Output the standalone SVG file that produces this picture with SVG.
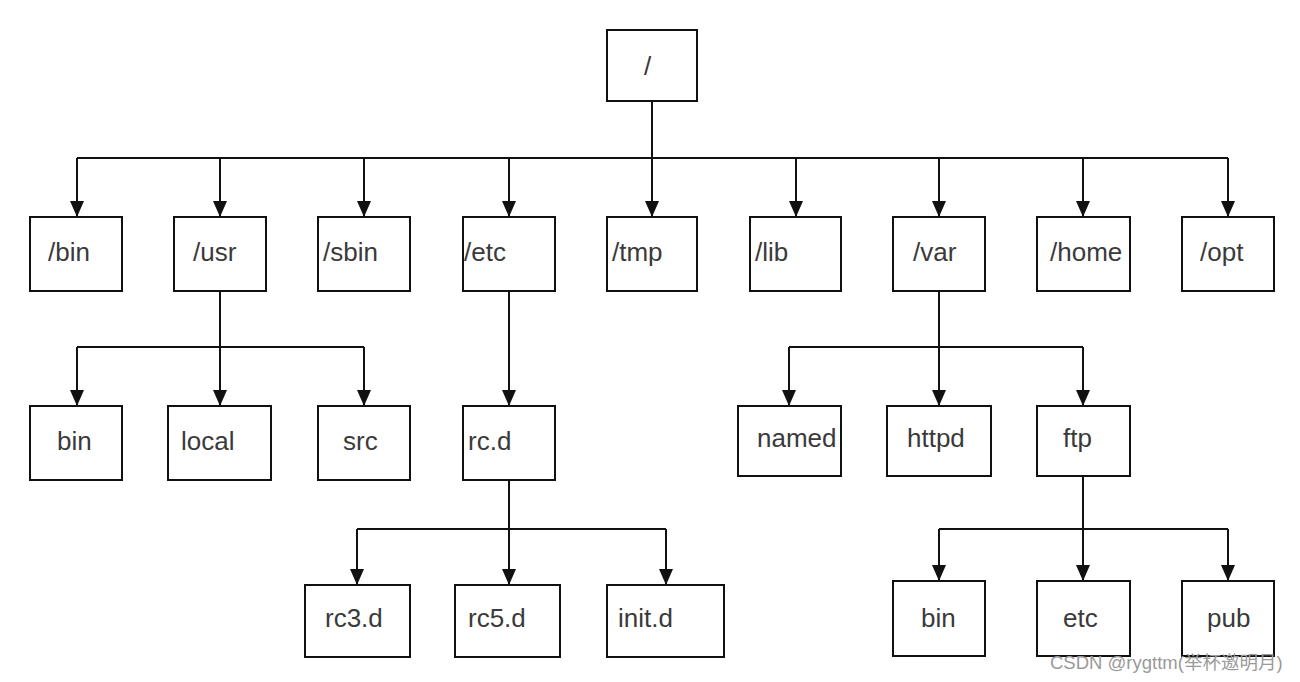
<svg xmlns="http://www.w3.org/2000/svg" width="1300" height="682" viewBox="0 0 1300 682">
<style>
.box{fill:#fff;stroke:#111;stroke-width:2}
.lbl{font-family:"Liberation Sans",Arial,sans-serif;font-size:26px;fill:#3a3a3a}
.c{fill:none;stroke:#111;stroke-width:2}
.wm{font-family:"Liberation Sans","Noto Sans CJK SC",sans-serif;font-size:18.5px;fill:#9a9a9a}
</style>
<defs>
<marker id="ah" markerUnits="userSpaceOnUse" markerWidth="16" markerHeight="14" refX="16" refY="7" orient="auto" viewBox="0 0 16 14">
<path d="M0,0 L16,7 L0,14 z" fill="#111"/>
</marker>
</defs>
<rect width="1300" height="682" fill="#fff"/>
<g id="connectors">
<path class="c" d="M652,101 V158 M77,158 H1228"/>
<path class="c" marker-end="url(#ah)" d="M77,158 V217"/>
<path class="c" marker-end="url(#ah)" d="M220,158 V217"/>
<path class="c" marker-end="url(#ah)" d="M364,158 V217"/>
<path class="c" marker-end="url(#ah)" d="M509,158 V217"/>
<path class="c" marker-end="url(#ah)" d="M652,158 V217"/>
<path class="c" marker-end="url(#ah)" d="M796,158 V217"/>
<path class="c" marker-end="url(#ah)" d="M939,158 V217"/>
<path class="c" marker-end="url(#ah)" d="M1083,158 V217"/>
<path class="c" marker-end="url(#ah)" d="M1228,158 V217"/>
<path class="c" d="M220,291 V347 M77,347 H364"/>
<path class="c" marker-end="url(#ah)" d="M77,347 V406"/>
<path class="c" marker-end="url(#ah)" d="M220,347 V406"/>
<path class="c" marker-end="url(#ah)" d="M364,347 V406"/>
<path class="c" marker-end="url(#ah)" d="M509,291 V406"/>
<path class="c" d="M509,480 V529 M357,529 H666"/>
<path class="c" marker-end="url(#ah)" d="M357,529 V585"/>
<path class="c" marker-end="url(#ah)" d="M509,529 V585"/>
<path class="c" marker-end="url(#ah)" d="M666,529 V585"/>
<path class="c" d="M939,291 V347 M789,347 H1083"/>
<path class="c" marker-end="url(#ah)" d="M789,347 V406"/>
<path class="c" marker-end="url(#ah)" d="M939,347 V406"/>
<path class="c" marker-end="url(#ah)" d="M1083,347 V406"/>
<path class="c" d="M1083,476 V529 M939,529 H1228"/>
<path class="c" marker-end="url(#ah)" d="M939,529 V581"/>
<path class="c" marker-end="url(#ah)" d="M1083,529 V581"/>
<path class="c" marker-end="url(#ah)" d="M1228,529 V581"/>
</g>
<g id="root"><rect class="box" x="607" y="30" width="90" height="71"/><text class="lbl" x="644" y="75">/</text></g>
<g id="n-bin"><rect class="box" x="30" y="217" width="92" height="74"/><text class="lbl" x="48" y="261">/bin</text></g>
<g id="n-usr"><rect class="box" x="174" y="217" width="92" height="74"/><text class="lbl" x="193" y="261">/usr</text></g>
<g id="n-sbin"><rect class="box" x="318" y="217" width="92" height="74"/><text class="lbl" x="323" y="261">/sbin</text></g>
<g id="n-etc"><rect class="box" x="463" y="217" width="92" height="74"/><text class="lbl" x="464" y="261">/etc</text></g>
<g id="n-tmp"><rect class="box" x="607" y="217" width="90" height="74"/><text class="lbl" x="612" y="261">/tmp</text></g>
<g id="n-lib"><rect class="box" x="750" y="217" width="91" height="74"/><text class="lbl" x="755" y="261">/lib</text></g>
<g id="n-var"><rect class="box" x="893" y="217" width="92" height="74"/><text class="lbl" x="913" y="261">/var</text></g>
<g id="n-home"><rect class="box" x="1037" y="217" width="93" height="74"/><text class="lbl" x="1050" y="261">/home</text></g>
<g id="n-opt"><rect class="box" x="1182" y="217" width="92" height="74"/><text class="lbl" x="1200" y="261">/opt</text></g>
<g id="n-usr-bin"><rect class="box" x="30" y="406" width="92" height="74"/><text class="lbl" x="57" y="450">bin</text></g>
<g id="n-usr-local"><rect class="box" x="168" y="406" width="103" height="74"/><text class="lbl" x="181" y="450">local</text></g>
<g id="n-usr-src"><rect class="box" x="318" y="406" width="92" height="74"/><text class="lbl" x="343" y="450">src</text></g>
<g id="n-rcd"><rect class="box" x="463" y="406" width="92" height="74"/><text class="lbl" x="468" y="450">rc.d</text></g>
<g id="n-named"><rect class="box" x="738" y="406" width="103" height="70"/><text class="lbl" x="757" y="447">named</text></g>
<g id="n-httpd"><rect class="box" x="887" y="406" width="104" height="70"/><text class="lbl" x="907" y="447">httpd</text></g>
<g id="n-ftp"><rect class="box" x="1037" y="406" width="93" height="70"/><text class="lbl" x="1063" y="447">ftp</text></g>
<g id="n-rc3d"><rect class="box" x="305" y="585" width="105" height="72"/><text class="lbl" x="325" y="627">rc3.d</text></g>
<g id="n-rc5d"><rect class="box" x="455" y="585" width="105" height="72"/><text class="lbl" x="468" y="627">rc5.d</text></g>
<g id="n-initd"><rect class="box" x="607" y="585" width="117" height="72"/><text class="lbl" x="618" y="627">init.d</text></g>
<g id="n-ftp-bin"><rect class="box" x="893" y="581" width="92" height="75"/><text class="lbl" x="921" y="627">bin</text></g>
<g id="n-ftp-etc"><rect class="box" x="1037" y="581" width="93" height="75"/><text class="lbl" x="1063" y="627">etc</text></g>
<g id="n-ftp-pub"><rect class="box" x="1182" y="581" width="92" height="75"/><text class="lbl" x="1207" y="627">pub</text></g>
<text class="wm" x="1050" y="669">CSDN @rygttm(举杯邀明月)</text>
</svg>
